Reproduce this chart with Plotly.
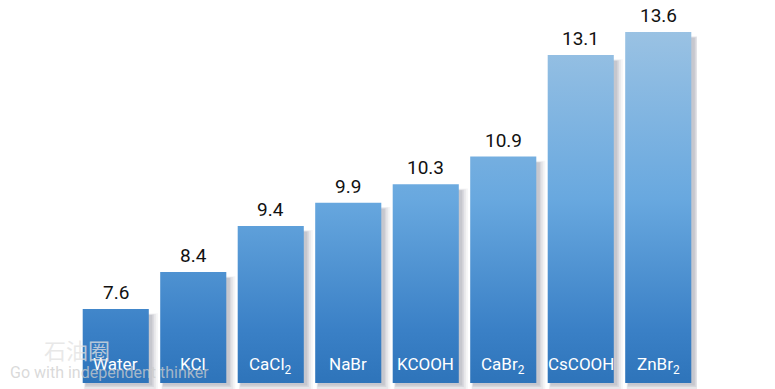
import plotly.graph_objects as go

categories = ["Water", "KCl", "CaCl<sub>2</sub>", "NaBr", "KCOOH", "CaBr<sub>2</sub>", "CsCOOH", "ZnBr<sub>2</sub>"]
values = [7.6, 8.4, 9.4, 9.9, 10.3, 10.9, 13.1, 13.6]
value_labels = ["7.6", "8.4", "9.4", "9.9", "10.3", "10.9", "13.1", "13.6"]

BASE = 6.0
Y_MIN, Y_MAX = 5.87, 14.117
W = 0.853
PX_X = 8.0 / 620.0
PX_Y = (Y_MAX - Y_MIN) / 381.0

FONT = "Roboto, sans-serif"

fig = go.Figure()

# drop shadows (soft, layered)
for grow, alpha in [(6, 0.05), (4, 0.07), (2, 0.09), (0.5, 0.10)]:
    for i, v in enumerate(values):
        dx, dy = 3 * PX_X, 2 * PX_Y
        x0 = i - W / 2 + dx - grow * PX_X * 0.3
        x1 = i + W / 2 + dx + grow * PX_X
        y0 = BASE - dy - grow * PX_Y
        y1 = v - dy - 4 * PX_Y + grow * PX_Y * 0.3
        fig.add_trace(go.Scatter(
            x=[x0, x1, x1, x0, x0], y=[y0, y0, y1, y1, y0],
            mode="lines", line=dict(width=0), fill="toself",
            fillcolor=f"rgba(50,60,85,{alpha})", hoverinfo="skip", showlegend=False))

# bars with vertical gradient fixed to the axis
for i, v in enumerate(values):
    x0, x1 = i - W / 2, i + W / 2
    fig.add_trace(go.Scatter(
        x=[x0, x1, x1, x0, x0], y=[BASE, BASE, v, v, BASE],
        mode="lines", line=dict(width=0), fill="toself",
        fillgradient=dict(type="vertical", start=BASE, stop=Y_MAX,
                          colorscale=[[0, "#2e74ba"], [0.14, "#3a80c6"], [0.49, "#68a8df"],
                                      [0.92, "#98c1e3"], [1, "#a0c6e5"]]),
        hoverinfo="skip", showlegend=False))

# value labels above bars
for i, (v, lab) in enumerate(zip(values, value_labels)):
    fig.add_annotation(x=i, y=v, text=lab, showarrow=False, yanchor="bottom", yshift=3,
                       font=dict(family=FONT, size=19, color="#111111"))

# category labels inside bars
for i, c in enumerate(categories):
    shift = 4 if "<sub>" in c else 7
    fig.add_annotation(x=i, y=BASE, text=c, showarrow=False, yanchor="bottom", yshift=shift,
                       font=dict(family=FONT, size=17, color="white"))

# watermark
fig.add_annotation(xref="paper", yref="paper", x=-0.057, y=0.058, xanchor="left", yanchor="bottom",
                   text="石油圈", showarrow=False,
                   font=dict(family="Noto Sans CJK SC", size=22, color="rgba(225,225,225,0.75)"))
fig.add_annotation(xref="paper", yref="paper", x=-0.112, y=0.012, xanchor="left", yanchor="bottom",
                   text="Go with independent thinker", showarrow=False,
                   font=dict(family="Roboto", size=16, color="rgba(205,205,205,0.75)"))

fig.update_xaxes(range=[-0.5, 7.5], visible=False, fixedrange=True)
fig.update_yaxes(range=[Y_MIN, Y_MAX], visible=False, fixedrange=True)
fig.update_layout(width=775, height=389, margin=dict(l=69, r=86, t=0, b=8, autoexpand=False),
                  plot_bgcolor="white", paper_bgcolor="white", showlegend=False)

fig.write_html("out.html")
